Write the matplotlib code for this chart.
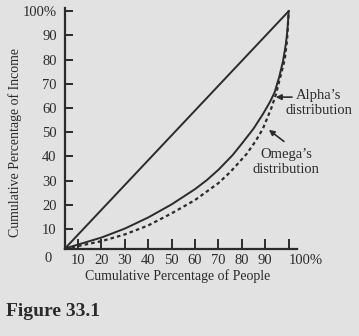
import matplotlib
matplotlib.use("Agg")
import matplotlib.pyplot as plt

# cumulative percentage of people (x) and of income (y)
alpha_x = [4.5, 10, 20, 30, 40, 50, 60, 65, 70, 76, 80, 85, 89, 92, 94, 96, 97.6, 98.8, 99.5, 100]
alpha_y = [2, 3.6, 6.5, 10.2, 14.8, 20.2, 26.5, 30.2, 34.5, 40.5, 45.3, 51.5, 57.5, 62.5, 66.5, 73, 79.5, 86.5, 92.5, 100]
omega_x = [4.5, 10, 20, 30, 40, 50, 60, 70, 75, 82, 86, 89, 92.6, 94.5, 96.2, 98.3, 99.3, 100]
omega_y = [2, 3, 5, 7.8, 11.5, 16.5, 22, 29, 33.5, 41, 46.5, 51.5, 60, 65.5, 72, 80, 88, 100]
equal_x = [4.5, 100]
equal_y = [2, 100]

x_ticks = [10, 20, 30, 40, 50, 60, 70, 80, 90, 100]
x_labels = ["10", "20", "30", "40", "50", "60", "70", "80", "90", "100%"]
y_ticks = [10, 20, 30, 40, 50, 60, 70, 80, 90, 100]
y_labels = ["10", "20", "30", "40", "50", "60", "70", "80", "90", "100%"]

bg = "#e2e2e2"
ink = "#2b2b2b"
plt.rcParams["font.family"] = ["Liberation Serif", "DejaVu Serif"]

fig = plt.figure(figsize=(3.59, 3.36), dpi=100, facecolor=bg)
ax = fig.add_axes([0.181, 0.2604, 0.646, 0.7158])
ax.set_facecolor(bg)

# line of perfect equality and the two Lorenz curves
ax.plot(equal_x, equal_y, color=ink, lw=1.4, clip_on=False)
ax.plot(alpha_x, alpha_y, color=ink, lw=1.4, clip_on=False)
ax.plot(omega_x, omega_y, color=ink, lw=1.6, ls=(0, (1.6, 1.4)), clip_on=False)

ax.set_xlim(4.5, 103.5)
ax.set_ylim(2, 101.3)
for side in ["top", "right"]:
    ax.spines[side].set_visible(False)
for side in ["left", "bottom"]:
    ax.spines[side].set_linewidth(1.6)
    ax.spines[side].set_color(ink)

ax.set_xticks(x_ticks)
ax.set_xticklabels(x_labels)
ax.set_yticks(y_ticks)
ax.set_yticklabels(y_labels)
ax.tick_params(axis="x", direction="in", length=7, width=1.4, color=ink, pad=4, labelsize=10.5, labelcolor=ink)
ax.tick_params(axis="y", direction="in", length=6, width=1.4, color=ink, pad=6, labelsize=10.5, labelcolor=ink)
# the 100% label sits a little to the right of its tick
ax.get_xticklabels()[-1].set_horizontalalignment("left")

# curve labels with arrows
ax.annotate("", xy=(93.3, 64.5), xytext=(102.6, 64.5),
            arrowprops=dict(arrowstyle="-|>", color=ink, lw=1.2, mutation_scale=8), annotation_clip=False)
ax.text(112.9, 62.1, "Alpha’s\ndistribution", ha="center", va="center", fontsize=10.5,
        color=ink, linespacing=1.25, clip_on=False)
ax.annotate("", xy=(90.6, 51.7), xytext=(98.9, 45.5),
            arrowprops=dict(arrowstyle="-|>", color=ink, lw=1.2, mutation_scale=8), annotation_clip=False)
ax.text(98.9, 37.8, "Omega’s\ndistribution", ha="center", va="center", fontsize=10.5,
        color=ink, linespacing=1.25, clip_on=False)

fig.text(48 / 359, 1 - 258 / 336, "0", ha="center", va="center", fontsize=10.5, color=ink)
fig.text(15 / 359, 1 - 142 / 336, "Cumulative Percentage of Income", rotation=90,
         ha="center", va="center", fontsize=10, color=ink)
fig.text(178 / 359, 1 - 276 / 336, "Cumulative Percentage of People",
         ha="center", va="center", fontsize=10, color=ink)
fig.text(6 / 359, 1 - 316 / 336, "Figure 33.1", ha="left", va="baseline",
         fontsize=14, fontweight="bold", color=ink)

fig.savefig("out.png", dpi=100, facecolor=bg)
